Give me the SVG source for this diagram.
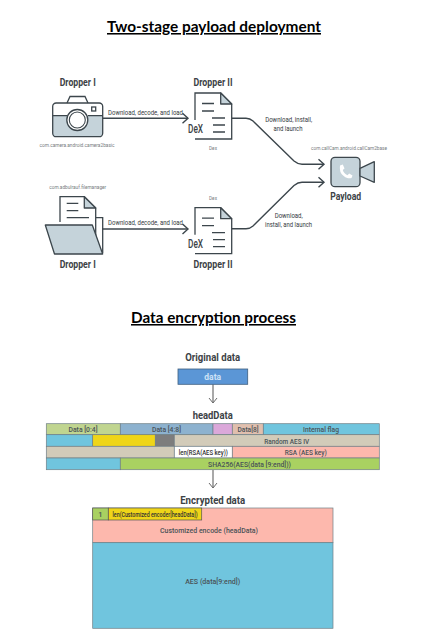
<svg xmlns="http://www.w3.org/2000/svg" width="433" height="640" viewBox="0 0 433 640">
<style>
text{font-family:Roboto,"Liberation Sans",sans-serif;text-anchor:middle}
.title{font-family:Lato,"Liberation Sans",sans-serif;font-weight:700;font-size:15.500px;fill:#000;text-decoration:underline}
.name{font-weight:700;font-size:11px;fill:#3c4246}
.edge{font-size:7.500px;fill:#33393d}
.pkg{font-size:6px;fill:#777c80}
.cell{font-size:7.500px;font-weight:500;fill:#4a5358}
.ln{fill:none;stroke:#3c464c;stroke-width:1.300}
.fl{fill:#c5d3da;stroke:#3c464c;stroke-width:1.300;stroke-linejoin:round}
.conn{fill:none;stroke:#3c464c;stroke-width:1.400}
.gray{fill:none;stroke:#8c8c8c;stroke-width:1.500}
.c{stroke:#6f7f86;stroke-width:.7}
.dex{font-weight:500;font-size:12px;fill:#3c4246}
</style>
<defs>
<marker id="open" markerUnits="userSpaceOnUse" markerWidth="10" markerHeight="12" refX="7.500" refY="6" orient="auto"><path d="M2 1L7.500 6L2 11" fill="none" stroke="#3c464c" stroke-width="1.400"/></marker>
<marker id="grayopen" markerUnits="userSpaceOnUse" markerWidth="10" markerHeight="10" refX="8" refY="5" orient="auto"><path d="M3 1L8 5L3 9" fill="none" stroke="#6b6b6b" stroke-width="1"/></marker>
<g id="doc">
<path class="ln" d="M195 120V93H220.700L231.700 104V139H195"/>
<path class="fl" d="M220.700 93L231.700 104H220.700Z"/>
<path class="ln" d="M202 103.500H214M202 111H214M212 118H225M213 125H225M213 132H225"/>
</g>
</defs>

<text class="title" x="214" y="32" textLength="214" lengthAdjust="spacingAndGlyphs">Two-stage payload deployment</text>

<g id="connectors">
<path class="conn" marker-end="url(#open)" d="M103 118.300H188"/>
<path class="conn" marker-end="url(#open)" d="M102 229H188"/>
<path class="conn" marker-end="url(#open)" d="M231.700 118.300H246Q250 118.300 253 121L294 161Q298 164.300 302 164.300H324"/>
<path class="conn" marker-end="url(#open)" d="M231.700 228.700H246Q250 228.700 253 226L294 185.500Q298 182.300 302 182.300H324"/>
<path class="gray" marker-end="url(#grayopen)" d="M213 384.300V403"/>
<path class="gray" marker-end="url(#grayopen)" d="M213 470V488"/>
</g>

<g id="edge-labels">
<text class="edge" x="145.500" y="114.500" textLength="75" lengthAdjust="spacingAndGlyphs">Download, decode, and load</text>
<text class="edge" x="145.500" y="225" textLength="75" lengthAdjust="spacingAndGlyphs">Download, decode, and load</text>
<text class="edge" x="288.700" y="122" textLength="47" lengthAdjust="spacingAndGlyphs">Download, install,</text>
<text class="edge" x="288" y="131" textLength="29" lengthAdjust="spacingAndGlyphs">and launch</text>
<text class="edge" x="288.700" y="218" textLength="28" lengthAdjust="spacingAndGlyphs">Download,</text>
<text class="edge" x="288.500" y="227" textLength="47" lengthAdjust="spacingAndGlyphs">install, and launch</text>
</g>

<g id="dropper1-top">
<text class="name" x="77.700" y="86" textLength="36" lengthAdjust="spacingAndGlyphs">Dropper I</text>
<path d="M52.700 115.700H102.700V133Q102.700 136.700 99 136.700H56.400Q52.700 136.700 52.700 133Z" fill="#c5d3da"/>
<path class="ln" d="M67 103L70 96.500H85L88 103"/>
<rect class="ln" x="52.700" y="103" width="50" height="33.700" rx="3.500"/>
<path class="ln" d="M52.700 115.700H67M88 115.700H102.700"/>
<circle cx="77.300" cy="120" r="10.500" fill="#fff" stroke="#3c464c" stroke-width="1.300"/>
<circle cx="77.300" cy="120" r="8" fill="#fff" stroke="#3c464c" stroke-width="1.100"/>
<rect class="ln" x="91.700" y="107" width="4" height="4"/>
<text class="pkg" x="77" y="147" textLength="75" lengthAdjust="spacingAndGlyphs">com.camera.android.camera2basic</text>
</g>

<g id="dropper2-top">
<text class="name" x="213" y="86" textLength="39" lengthAdjust="spacingAndGlyphs">Dropper II</text>
<use href="#doc"/>
<text class="dex" x="195.500" y="133" textLength="15" lengthAdjust="spacingAndGlyphs">DeX</text>
<text class="pkg" x="213" y="150" textLength="8" lengthAdjust="spacingAndGlyphs">Dex</text>
</g>

<g id="dropper1-bottom">
<text class="pkg" x="77.700" y="189.300" textLength="57" lengthAdjust="spacingAndGlyphs">com.adbulrauf.filemanager</text>
<path class="ln" d="M60 222V196.700H84.300L95.700 208V240M96 217.700H102.700V253"/>
<path class="fl" d="M84.300 196.700L95.700 208H84.300Z"/>
<path class="ln" d="M66.700 203.300H78.300M66.700 210.700H78.300M66.700 217.700H89"/>
<path class="fl" d="M45.300 225H92.300L102.700 254H54.500Z"/>
<text class="name" x="77.700" y="267.700" textLength="36" lengthAdjust="spacingAndGlyphs">Dropper I</text>
</g>

<g id="dropper2-bottom">
<text class="pkg" x="213" y="200" textLength="8" lengthAdjust="spacingAndGlyphs">Dex</text>
<use href="#doc" y="114.700"/>
<text class="dex" x="195.500" y="247.500" textLength="15" lengthAdjust="spacingAndGlyphs">DeX</text>
<text class="name" x="213" y="267.700" textLength="39" lengthAdjust="spacingAndGlyphs">Dropper II</text>
</g>

<g id="payload">
<text class="pkg" x="349" y="150.300" textLength="76" lengthAdjust="spacingAndGlyphs">com.callCam.android.callCam2base</text>
<rect class="fl" x="331" y="157.300" width="29" height="29.400" rx="4"/>
<path class="fl" d="M360 168.300L374.300 161.700V182.300L360 176Z"/>
<path d="M340 165.500L342.800 164.500L344.500 168.500L342.800 170C343.500 172.500 345 174 347.500 175.200L349.200 173.500L352.500 175.500L351.500 178C347.500 179.500 342 176 340.300 171.500Q339.500 168 340 165.500Z" fill="#fff"/>
<text class="name" x="345.700" y="200" textLength="31" lengthAdjust="spacingAndGlyphs">Payload</text>
</g>

<text class="title" x="213.500" y="323" textLength="165" lengthAdjust="spacingAndGlyphs">Data encryption process</text>

<g id="original-data">
<text class="name" x="212.700" y="360.700" textLength="55" lengthAdjust="spacingAndGlyphs">Original data</text>
<rect x="178" y="369" width="69.700" height="15.300" fill="#5b96d6" stroke="#3f5f7f" stroke-width=".8"/>
<text x="212.700" y="379.500" font-size="8.500" font-weight="700" fill="#cfe3f7">data</text>
</g>

<g id="headdata">
<text class="name" x="212.700" y="419" textLength="40" lengthAdjust="spacingAndGlyphs">headData</text>
<rect class="c" x="46.300" y="423.700" width="74" height="11" fill="#c0d590"/>
<rect class="c" x="120.300" y="423.700" width="92.700" height="11" fill="#8db2cf"/>
<rect class="c" x="213" y="423.700" width="19.300" height="11" fill="#dba8da"/>
<rect class="c" x="232.300" y="423.700" width="31" height="11" fill="#e0bfae"/>
<rect class="c" x="263.300" y="423.700" width="116" height="11" fill="#70c5de"/>
<rect class="c" x="46.300" y="434.700" width="46.400" height="11.600" fill="#70c5de"/>
<rect class="c" x="92.700" y="434.700" width="62.600" height="11.600" fill="#efd518"/>
<rect class="c" x="155.300" y="434.700" width="19" height="11.600" fill="#7d7d7d"/>
<rect class="c" x="174.300" y="434.700" width="205" height="11.600" fill="#d2cbb9"/>
<rect class="c" x="46.300" y="446.300" width="128" height="11.700" fill="#d2cbb9"/>
<rect class="c" x="174.300" y="446.300" width="58" height="11.700" fill="#fff"/>
<rect class="c" x="232.300" y="446.300" width="147" height="11.700" fill="#fdb8ad"/>
<rect class="c" x="46.300" y="458" width="74" height="11.700" fill="#70c5de"/>
<rect class="c" x="120.300" y="458" width="259" height="11.700" fill="#a9d161"/>
<text class="cell" x="83" y="432.300" textLength="29" lengthAdjust="spacingAndGlyphs">Data [0:4]</text>
<text class="cell" x="166.500" y="432.300" textLength="29" lengthAdjust="spacingAndGlyphs">Data [4:8]</text>
<text class="cell" x="248" y="432.300" textLength="21" lengthAdjust="spacingAndGlyphs">Data[8]</text>
<text class="cell" x="321" y="432.300" textLength="36" lengthAdjust="spacingAndGlyphs">Internal flag</text>
<text class="cell" x="286.700" y="443.500" textLength="45" lengthAdjust="spacingAndGlyphs">Random AES IV</text>
<text class="cell" x="203.300" y="455" textLength="49" lengthAdjust="spacingAndGlyphs" style="font-size:6.500px;fill:#333">len(RSA(AES key))</text>
<text class="cell" x="305.700" y="455.300" textLength="42" lengthAdjust="spacingAndGlyphs">RSA (AES key)</text>
<text class="cell" x="249.500" y="467" textLength="83" lengthAdjust="spacingAndGlyphs">SHA256(AES(data [9:end]))</text>
</g>

<g id="encrypted-data">
<text class="name" x="212.700" y="504.300" textLength="65" lengthAdjust="spacingAndGlyphs">Encrypted data</text>
<rect class="c" x="92.700" y="508" width="240.300" height="34.700" fill="#fdb8ad"/>
<rect class="c" x="92.700" y="542.700" width="240.300" height="85.600" fill="#70c5de"/>
<rect x="92.700" y="508" width="15.600" height="12" fill="#a9d161" stroke="#555" stroke-width=".7"/>
<rect x="108.300" y="508" width="93.400" height="12" fill="#efd518" stroke="#555" stroke-width=".7"/>
<text class="cell" x="100.500" y="517">1</text>
<text class="cell" x="155" y="516.700" textLength="85" lengthAdjust="spacingAndGlyphs" style="font-size:6.500px;fill:#333">len(Customized encoder[headData])</text>
<text class="cell" x="209" y="533" textLength="98" lengthAdjust="spacingAndGlyphs">Customized encode (headData)</text>
<text class="cell" x="212.700" y="584" textLength="55" lengthAdjust="spacingAndGlyphs">AES (data[9:end])</text>
</g>
</svg>
